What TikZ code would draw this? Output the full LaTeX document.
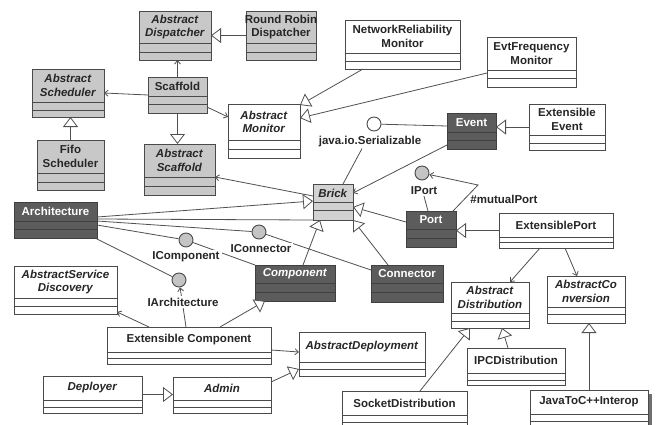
\documentclass[tikz,border=0pt]{standalone}
\usepackage{fontspec}
\setmainfont{Liberation Sans}
\usetikzlibrary{arrows.meta,fit,calc}
\definecolor{lgrey}{HTML}{C8C8C8}
\definecolor{brickc}{HTML}{D2D2D2}
\definecolor{dgrey}{HTML}{5C5C5C}
\definecolor{edge}{HTML}{4A4A4A}
\definecolor{linec}{HTML}{505050}
\definecolor{icolor}{HTML}{C4C4C4}
\definecolor{shadc}{HTML}{707070}

% #1 name, #2 x1, #3 y1, #4 x2, #5 y2, #6 first separator, #7 second separator, #8 kind, #9 text
\newcommand\umlcls[9]{%
  \node[clsbox, #8 box, fit={(#2,#3) (#4,#5)}] (#1) {};
  \draw[#8 sep] (#2,#6) -- (#4,#6) (#2,#7) -- (#4,#7);
  \node[clstext, #8 text] at ({(#2+#4)/2},{(#3+#6)/2}) {#9};
}

\begin{document}
\begin{tikzpicture}[x=1pt,y=-1pt,
  clsbox/.style={draw=edge, line width=1pt, inner sep=0pt, outer sep=0pt},
  clstext/.style={font=\bfseries\fontsize{11.5}{13.5}\selectfont, align=center, inner sep=0pt, text=black!85},
  g box/.style={fill=lgrey}, g sep/.style={draw=edge, line width=1pt}, g text/.style={},
  l box/.style={fill=brickc}, l sep/.style={draw=edge, line width=1pt}, l text/.style={},
  w box/.style={fill=white}, w sep/.style={draw=edge, line width=1pt}, w text/.style={},
  d box/.style={fill=dgrey, draw=black!75}, d sep/.style={draw=black!75, line width=1pt}, d text/.style={text=white},
  conn/.style={draw=linec, line width=0.8pt},
  gen/.style={conn, -{Triangle[fill=white, length=10pt, width=15pt]}},
  assoc/.style={conn, -{Straight Barb[length=3.5pt, width=6pt]}},
  iface/.style={circle, draw=edge, line width=0.9pt, fill=icolor, minimum size=14pt, inner sep=0pt},
  lbl/.style={font=\bfseries\fontsize{11.5}{13.5}\selectfont, inner sep=1pt, text=black!85},
  lblw/.style={lbl, fill=white, inner sep=2pt}
]
\useasboundingbox (0,0) rectangle (656,424);
\clip (0,0) rectangle (656,424);
\fill[white] (0,0) rectangle (656,424);

% ---------- classes ----------
\umlcls{AD}{139}{11}{211}{60}{43}{52}{g}{\textit{Abstract}\\\textit{Dispatcher}}
\umlcls{RRD}{246}{11}{316}{60}{43}{52}{g}{Round Robin\\Dispatcher}
\umlcls{ASch}{32}{69}{104}{117}{102}{110}{g}{\textit{Abstract}\\\textit{Scheduler}}
\umlcls{Scf}{148}{77}{207}{113}{96}{104}{g}{Scaffold}
\umlcls{Fifo}{37}{140}{104}{190}{173}{182}{g}{Fifo\\Scheduler}
\umlcls{AScf}{144}{144}{215}{195}{177}{186}{g}{\textit{Abstract}\\\textit{Scaffold}}
\umlcls{AMon}{228}{104}{300}{158}{140}{149}{w}{\textit{Abstract}\\\textit{Monitor}}
\umlcls{NRM}{345}{20}{460}{69}{53}{61}{w}{NetworkReliability\\Monitor}
\umlcls{EFM}{487}{37}{576}{87}{70}{78}{w}{EvtFrequency\\Monitor}
\umlcls{Event}{447}{113}{496}{149}{132}{140}{d}{Event}
\umlcls{EE}{529}{104}{605}{150}{135}{143}{w}{Extensible\\Event}
\umlcls{Arch}{14}{202}{97}{238}{221}{229}{d}{Architecture}
\umlcls{Brick}{313}{184}{353}{220}{202}{210}{l}{\textit{Brick}}
\umlcls{Port}{406}{211}{456}{247}{229}{238}{d}{Port}
\umlcls{EPort}{499}{213}{613}{248}{237}{242}{w}{ExtensiblePort}
\umlcls{Comp}{255}{265}{335}{301}{283}{292}{d}{\textit{Component}}
\umlcls{Conn}{371}{265}{443}{302}{283}{292}{d}{Connector}
\umlcls{ASD}{14}{266}{117}{314}{298}{306}{w}{\textit{AbstractService}\\\textit{Discovery}}
\umlcls{ExtComp}{107}{327}{271}{364}{352}{358}{w}{Extensible Component}
\umlcls{ADep}{299}{332}{425}{376}{362}{369}{w}{\textit{AbstractDeployment}}
\umlcls{Dep}{43}{376}{142}{413}{400}{407}{w}{\textit{Deployer}}
\umlcls{Admin}{173}{377}{271}{413}{400}{407}{w}{\textit{Admin}}
\umlcls{ADist}{451}{282}{529}{328}{313}{321}{w}{\textit{Abstract}\\\textit{Distribution}}
\umlcls{AConv}{547}{276}{625}{323}{307}{314}{w}{\textit{AbstractCo}\\\textit{nversion}}
\umlcls{IPC}{467}{348}{565}{385}{373}{380}{w}{IPCDistribution}
\umlcls{Socket}{342}{391}{467}{432}{415}{422}{w}{SocketDistribution}
\fill[shadc] (652,394) rectangle (648,432);
\umlcls{Java}{530}{390}{648}{432}{414}{421}{w}{JavaToC++Interop}

% ---------- interfaces ----------
\node[iface, fill=white] (Ser) at (374,124) {};
\node[iface] (IPort) at (422,173) {};
\node[iface] (IComp) at (186,240) {};
\node[iface] (IConn) at (259,232) {};
\node[iface] (IArch) at (179,280) {};
\node[lbl] (SerL) at (370,142) {java.io.Serializable};
\node[lbl] (IPortL) at (424,191) {IPort};
\node[lbl] (mpL) at (504,199) {\#mutualPort};
\coordinate (mpBend) at (478,185);

% ---------- connectors ----------
\draw[gen] (RRD.west) -- (AD.east);
\draw[assoc] (Scf.north) -- (Scf.north |- AD.south);
\draw[assoc] (Scf.west) -- (ASch.east);
\draw[gen] (Fifo.north) -- (Fifo.north |- ASch.south);
\draw[gen] (Scf.south) -- (Scf.south |- AScf.north);
\draw[assoc] ([yshift=-12pt]Scf.east) -- ([yshift=14pt]AMon.west);
\draw[gen] ([xshift=-39.5pt]NRM.south) -- ([yshift=26pt]AMon.east);
\draw[gen] ([yshift=-11pt]EFM.west) -- ([yshift=13pt]AMon.east);
\draw[conn] ([yshift=5pt]Event.west) -- (Ser);
\draw[conn] ([xshift=10pt]Brick.north) -- ([xshift=-8pt]SerL.south);
\draw[assoc] ([yshift=-14pt]Event.west) -- ([yshift=9pt]Brick.east);
\draw[gen] (EE.west) -- (EE.west -| Event.east);
\draw[assoc] ([yshift=6pt]Brick.west) -- ([yshift=-7.5pt]AScf.east);
\draw[gen] ([yshift=3pt]Arch.east) -- ([yshift=1pt]Brick.west);
\draw[conn] ([yshift=1pt]Arch.east) -- (Brick.south west);
\draw[conn] ([yshift=-1pt]Arch.east) -- (IConn);
\draw[conn] ([yshift=-5pt]Arch.east) -- (IComp);
\draw[conn] ([xshift=-2pt]Arch.south east) -- (IArch);
\draw[conn] (IComp) -- (Comp.north west);
\draw[conn] (IConn) -- ([yshift=-5pt]Conn.north west);
\draw[assoc] ([xshift=-3pt]ExtComp.north) -- (IArch);
\draw[assoc] ([xshift=-40pt]ExtComp.north) -- ([yshift=2pt]ASD.south east);
\draw[gen] ([xshift=31pt]ExtComp.north) -- ([xshift=10pt]Comp.south west);
\draw[assoc] ([yshift=-4.5pt]ExtComp.east) -- ([yshift=2pt]ADep.west);
\draw[gen] ([yshift=13pt]Admin.east) -- ([yshift=-15pt]ADep.west);
\draw[gen] (Dep.east) -- (Dep.east -| Admin.west);
\draw[gen] ([xshift=8pt]Comp.north) -- ([xshift=-13pt]Brick.south);
\draw[gen] ([xshift=-19pt]Conn.north) -- (Brick.south east);
\draw[gen] ([yshift=7pt]Port.west) -- ([yshift=-5pt]Brick.east);
\draw[conn] ([xshift=-3pt]Port.north) -- (IPortL.south);
\draw[assoc] ([xshift=-3pt]Port.north east) -- (mpBend) -- (IPort);
\draw[gen] (EPort.west) -- (EPort.west -| Port.east);
\draw[assoc] ([xshift=-16pt]EPort.south) -- ([xshift=20pt]ADist.north);
\draw[assoc] ([xshift=9pt]EPort.south) -- ([xshift=-9pt]AConv.north);
\draw[gen] ([xshift=15.5pt]Socket.north) -- ([xshift=-20pt]ADist.south);
\draw[gen] ([xshift=-8pt]IPC.north) -- ([xshift=12pt]ADist.south);
\draw[gen] (Java.north) -- (Java.north |- AConv.south);

% ---------- labels over lines ----------
\node[lblw] (ICompL) at (186,257) {IComponent};
\node[lblw] (IConnL) at (261,249) {IConnector};
\node[lblw] (IArchL) at (183,302) {IArchitecture};
\end{tikzpicture}
\end{document}
